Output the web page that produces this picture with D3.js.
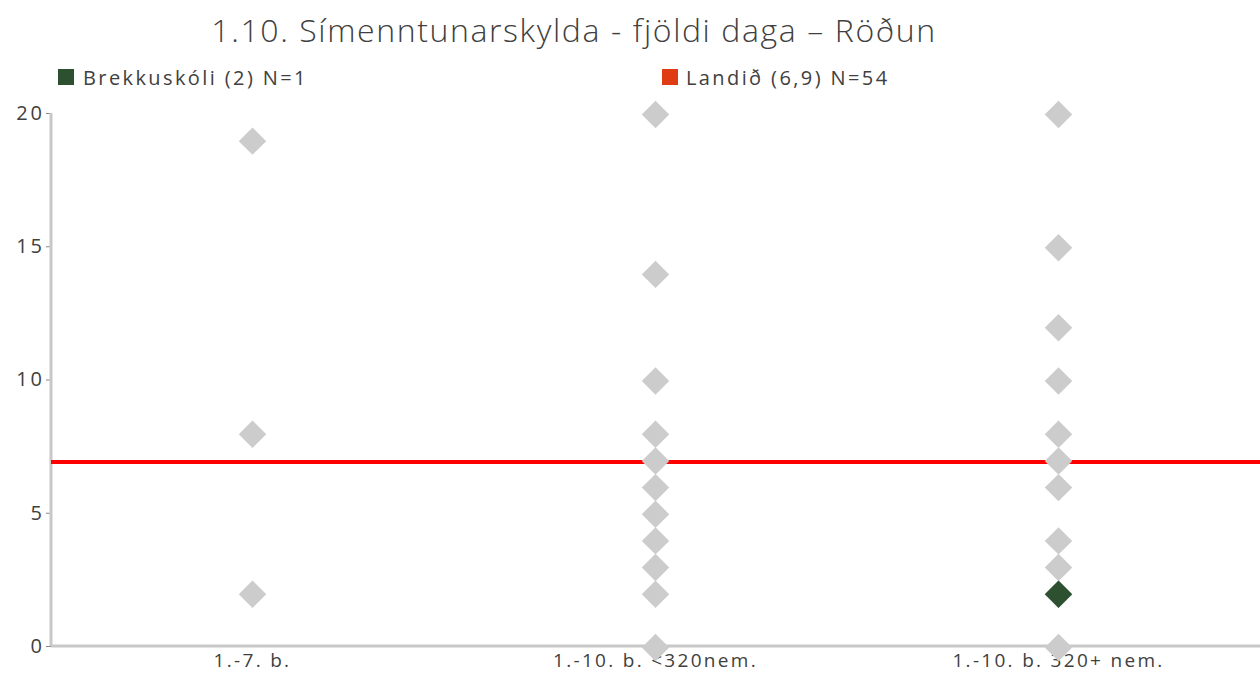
<!DOCTYPE html>
<html>
<head>
<meta charset="utf-8">
<script src="https://cdn.jsdelivr.net/npm/d3@7"></script>
<style>
  body { margin: 0; background: #fff; }
  text { font-family: "Open Sans", Lato, sans-serif; fill: #404040; }
</style>
</head>
<body>
<div id="chart"></div>
<script>
let categories = ["1.-7. b.", "1.-10. b. <320nem.", "1.-10. b. 320+ nem."];
// grey diamonds: other schools, one array per category
let othersCat1 = [19, 8, 2];
let othersCat2 = [20, 14, 10, 8, 7, 6, 5, 4, 3, 2, 0];
let othersCat3 = [20, 15, 12, 10, 8, 7, 6, 4, 3, 2, 0];
let schoolCategory = "1.-10. b. 320+ nem.";
let schoolValue = 2;
let nationalValue = 6.9;
let yTicks = [0, 5, 10, 15, 20];
let titleText = "1.10. Símenntunarskylda - fjöldi daga – Röðun";
let legendSchool = "Brekkuskóli (2) N=1";
let legendNational = "Landið (6,9) N=54";

let width = 1260;
let height = 675;
let padLeft = 51, padRight = 1260, padTop = 113, padBottom = 646;

let chart = d3.select("#chart").append("svg")
  .attr("width", width).attr("height", height);

let xscale = d3.scaleBand().domain(categories).range([padLeft, padRight]);
let yscale = d3.scaleLinear().domain([0, 20]).range([padBottom, padTop]);

// title
chart.append("text").text(titleText)
  .attr("x", 574).attr("y", 42)
  .attr("text-anchor", "middle")
  .attr("font-size", 32)
  .style("font-weight", 300)
  .style("letter-spacing", "1.6px");

// legend
chart.append("rect").attr("x", 58).attr("y", 69).attr("width", 16).attr("height", 16).attr("fill", "#2d5030");
chart.append("text").text(legendSchool).attr("x", 83).attr("y", 85).attr("font-size", 20).style("letter-spacing", "2.4px");
chart.append("rect").attr("x", 662).attr("y", 69).attr("width", 16).attr("height", 16).attr("fill", "#e03c14");
chart.append("text").text(legendNational).attr("x", 686).attr("y", 85).attr("font-size", 20).style("letter-spacing", "2.4px");

// y axis
let yAxis = d3.axisLeft(yscale).tickValues(yTicks).tickSize(5).tickPadding(1);
let gy = chart.append("g").attr("transform", "translate(" + padLeft + ",0)").call(yAxis);
gy.select(".domain").remove();
gy.selectAll(".tick line").attr("stroke", "#888");
gy.selectAll(".tick text").attr("font-size", 20).style("font-family", "'Open Sans', sans-serif")
  .attr("fill", "#404040").style("letter-spacing", "3px");
chart.append("line").attr("x1", padLeft).attr("x2", padLeft).attr("y1", padTop).attr("y2", padBottom)
  .attr("stroke", "#c8c8c8").attr("stroke-width", 3);

// x axis
let xAxis = d3.axisBottom(xscale).tickSize(0).tickPadding(8);
let gx = chart.append("g").attr("transform", "translate(0," + padBottom + ")").call(xAxis);
gx.select(".domain").remove();
gx.selectAll(".tick text").attr("font-size", 19).style("font-family", "'Open Sans', sans-serif")
  .attr("fill", "#404040").style("letter-spacing", "2.3px");
chart.append("line").attr("x1", padLeft).attr("x2", padRight).attr("y1", padBottom).attr("y2", padBottom)
  .attr("stroke", "#c8c8c8").attr("stroke-width", 3);

// national average line
chart.append("line")
  .attr("x1", padLeft).attr("x2", padRight)
  .attr("y1", yscale(nationalValue)).attr("y2", yscale(nationalValue))
  .attr("stroke", "#ff0000").attr("stroke-width", 4);

// points
let points = [];
[othersCat1, othersCat2, othersCat3].forEach(function(arr, i){
  arr.forEach(function(v){ points.push({cat: categories[i], value: v}); });
});

let diamond = d3.symbol().type(d3.symbolDiamond2).size(480);

chart.append("g").selectAll("path")
  .data(points).enter().append("path")
  .attr("d", diamond)
  .attr("transform", function(d){ return "translate(" + (xscale(d.cat) + xscale.bandwidth()/2) + "," + (yscale(d.value) + 1.5) + ")"; })
  .attr("fill", "#cccccc");

chart.append("path")
  .attr("d", diamond)
  .attr("transform", "translate(" + (xscale(schoolCategory) + xscale.bandwidth()/2) + "," + (yscale(schoolValue) + 1.5) + ")")
  .attr("fill", "#2d5030");
</script>
</body>
</html>
